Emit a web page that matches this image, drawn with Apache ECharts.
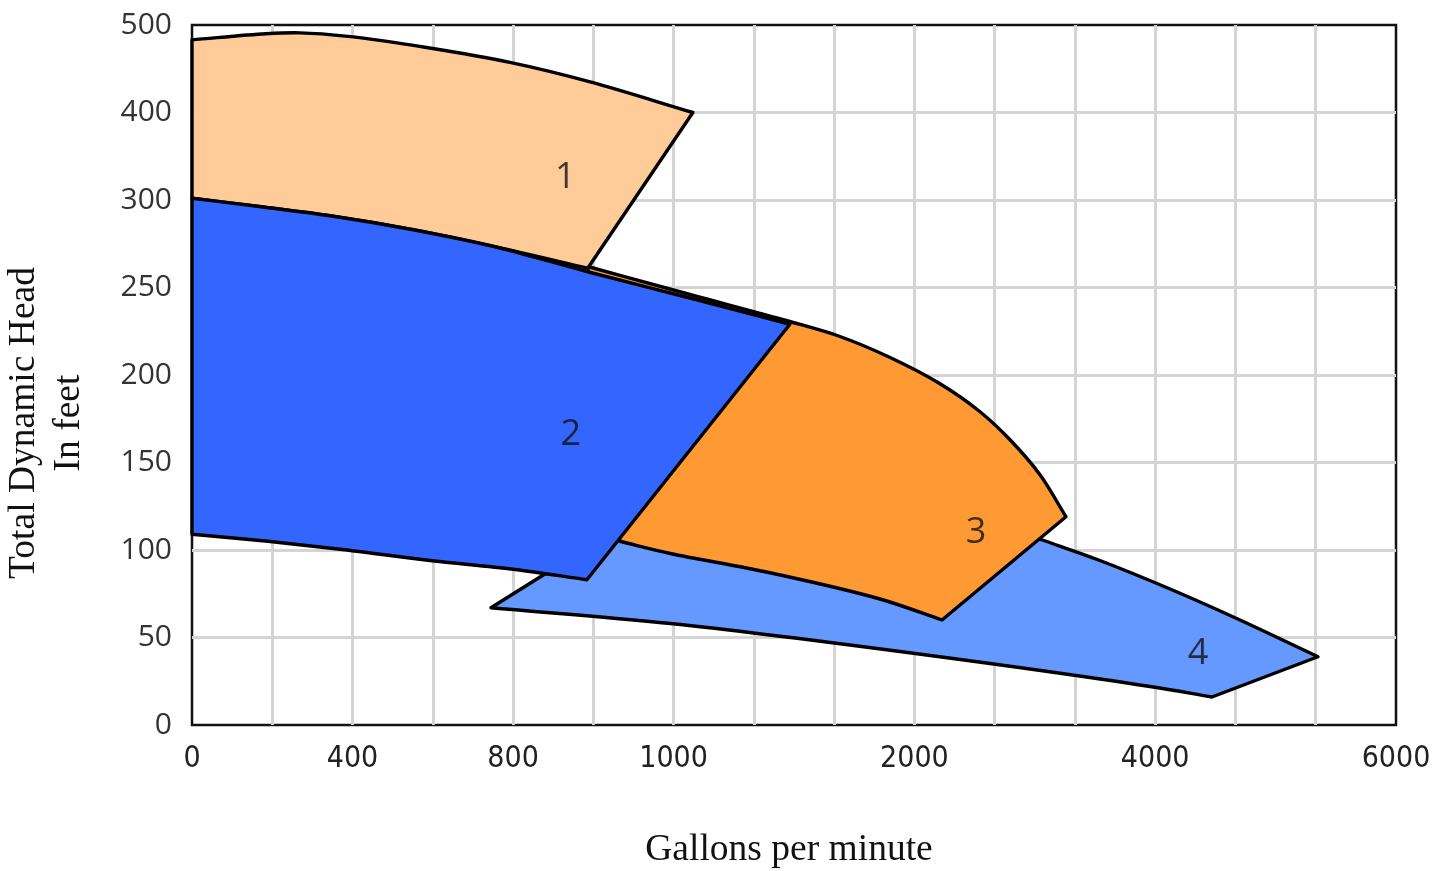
<!DOCTYPE html>
<html><head><meta charset="utf-8">
<script src="https://cdn.jsdelivr.net/npm/echarts@6/dist/echarts.min.js"></script>
<style>html,body{margin:0;padding:0;background:#fff;}#chart{width:1450px;height:871px;}</style>
</head><body><div id="chart"></div>
<script>
// Tick labels (real units) and the grid-line index each one sits on
const xTickValues = [0, 400, 800, 1000, 2000, 4000, 6000];
const xTickIndex  = [0, 2, 4, 6, 9, 12, 15];
const yTickValues = [0, 50, 100, 150, 200, 250, 300, 400, 500];
const yTickIndex  = [0, 1, 2, 3, 4, 5, 6, 7, 8];

// Region boundaries, [gallons per minute, feet]
const region1Top    = [[0,483],[184,490],[269,491],[389,487],[588,474],[795,457],[896,435],[1080,400]];
const region1Bottom = [[893,261],[760,273],[551,283],[344,291],[177,296],[0,302]];
const region2Top    = [[0,302],[177,296],[344,291],[551,283],[760,273],[893,259],[1068,244],[1483,229]];
const region2Bottom = [[892,83],[800,89],[593,94],[386,100],[189,105],[0,109]];
const region3Top    = [[893,262],[1068,246],[1471,231],[1691,222],[1899,210],[2213,195],[2545,179],[2794,163],[3043,143],[3259,119]];
const region3Bottom = [[2229,60],[1857,72],[1400,87],[996,98],[933,105]];
const region4Bottom = [[4471,16],[3957,22],[1940,42],[996,58],[745,67]];
const region4Hidden = [[877,97],[946,114],[2711,111]];
const region4Top    = [[3051,106],[3541,94],[4148,77],[4704,60],[5352,39]];
const regionLabels  = ['1','2','3','4'];
const regionLabelAt = [[865,325],[872,166],[2511,110],[4356,41]];

function toIdx(v, vals, idx){
  for (let i = 0; i < vals.length - 1; i++){
    if (v <= vals[i+1] || i === vals.length - 2){
      return idx[i] + (v - vals[i]) / (vals[i+1] - vals[i]) * (idx[i+1] - idx[i]);
    }
  }
}
function toAxis(p){ return [toIdx(p[0], xTickValues, xTickIndex), toIdx(p[1], yTickValues, yTickIndex)]; }

function f(n){ return n.toFixed(2); }
// centripetal Catmull-Rom through the points, converted to cubic Bezier segments
function buildPath(api, pieces){
  let d = '';
  pieces.forEach(function(piece, k){
    const pts = piece.map(function(p){ return api.coord(toAxis(p)); });
    d += (k === 0 ? 'M' : 'L') + f(pts[0][0]) + ' ' + f(pts[0][1]) + ' ';
    const n = pts.length;
    for (let i = 0; i < n - 1; i++){
      const p1 = pts[i], p2 = pts[i+1];
      const p0 = i > 0 ? pts[i-1] : [2*p1[0]-p2[0], 2*p1[1]-p2[1]];
      const p3 = i + 2 < n ? pts[i+2] : [2*p2[0]-p1[0], 2*p2[1]-p1[1]];
      const a = 0.5;
      const d1 = Math.max(Math.hypot(p1[0]-p0[0], p1[1]-p0[1]), 1e-6);
      const d2 = Math.max(Math.hypot(p2[0]-p1[0], p2[1]-p1[1]), 1e-6);
      const d3 = Math.max(Math.hypot(p3[0]-p2[0], p3[1]-p2[1]), 1e-6);
      const d1a = Math.pow(d1, a), d2a = Math.pow(d2, a), d3a = Math.pow(d3, a);
      const d1b = d1a*d1a, d2b = d2a*d2a, d3b = d3a*d3a;
      const A = 2*d1b + 3*d1a*d2a + d2b, N1 = 3*d1a*(d1a + d2a);
      const B = 2*d3b + 3*d3a*d2a + d2b, N2 = 3*d3a*(d3a + d2a);
      const c1 = [(d1b*p2[0] - d2b*p0[0] + A*p1[0]) / N1, (d1b*p2[1] - d2b*p0[1] + A*p1[1]) / N1];
      const c2 = [(d3b*p1[0] - d2b*p3[0] + B*p2[0]) / N2, (d3b*p1[1] - d2b*p3[1] + B*p2[1]) / N2];
      d += 'C' + f(c1[0]) + ' ' + f(c1[1]) + ' ' + f(c2[0]) + ' ' + f(c2[1]) + ' ' + f(p2[0]) + ' ' + f(p2[1]) + ' ';
    }
  });
  return d + 'Z';
}

function regionSeries(name, pieces, color){
  return {
    type: 'custom', name: name, silent: true,
    data: [[0, 0]],
    renderItem: function(params, api){
      return { type: 'path', shape: { pathData: buildPath(api, pieces) },
        style: { fill: color, stroke: '#000', lineWidth: 3.4, lineJoin: 'round' } };
    }
  };
}

const chart = echarts.init(document.getElementById('chart'), null, { renderer: 'canvas' });
chart.setOption({
  animation: false,
  backgroundColor: '#fff',
  grid: { left: 192, top: 25, width: 1204, height: 700, show: true, backgroundColor: '#fff', borderColor: '#111', borderWidth: 2.5 },
  xAxis: {
    type: 'value', min: 0, max: 15, interval: 1,
    axisLine: { show: false }, axisTick: { show: false },
    splitLine: { show: true, showMinLine: false, showMaxLine: false, lineStyle: { color: '#d4d4d4', width: 3 } },
    axisLabel: {
      margin: 19, color: '#222', fontFamily: '"DejaVu Sans Condensed", sans-serif', fontSize: 30,
      showMaxLabel: true, showMinLabel: true,
      formatter: function(v){ const r = Math.round(v); const k = xTickIndex.indexOf(r); return (Math.abs(v-r) < 1e-6 && k >= 0) ? String(xTickValues[k]) : ''; }
    }
  },
  yAxis: {
    type: 'value', min: 0, max: 8, interval: 1,
    axisLine: { show: false }, axisTick: { show: false },
    splitLine: { show: true, showMinLine: false, showMaxLine: false, lineStyle: { color: '#d4d4d4', width: 3 } },
    axisLabel: {
      margin: 20, color: '#333', fontFamily: '"Open Sans", sans-serif', fontSize: 30,
      formatter: function(v){ const r = Math.round(v); const k = yTickIndex.indexOf(r); return (Math.abs(v-r) < 1e-6 && k >= 0) ? String(yTickValues[k]) : ''; }
    }
  },
  graphic: [
    { type: 'text', x: 47, y: 423, rotation: Math.PI/2, silent: true,
      style: { text: 'Total Dynamic Head\nIn feet', fill: '#111', font: '37.5px "Liberation Serif", serif', lineHeight: 45, textAlign: 'center', textVerticalAlign: 'middle' } },
    { type: 'text', x: 789, y: 850, silent: true,
      style: { text: 'Gallons per minute', fill: '#111', font: '37.5px "Liberation Serif", serif', textAlign: 'center', textVerticalAlign: 'middle' } }
  ],
  series: [
    regionSeries('4', [region4Bottom].concat(region4Hidden.map(function(p){ return [p]; })).concat([region4Top]), '#6699FF'),
    regionSeries('3', [region3Top, region3Bottom], '#FF9933'),
    regionSeries('1', [region1Top, region1Bottom], '#FFCC99'),
    regionSeries('2', [region2Top, region2Bottom], '#3366FF'),
    {
      type: 'scatter', silent: true, symbolSize: 0, z: 5,
      data: regionLabels.map(function(t, i){ const a = toAxis(regionLabelAt[i]); return [a[0], a[1], t]; }),
      label: { show: true, position: 'inside', formatter: function(p){ return p.value[2]; },
        color: '#111', fontFamily: '"Open Sans", sans-serif', fontSize: 36 }
    }
  ]
});
</script></body></html>
